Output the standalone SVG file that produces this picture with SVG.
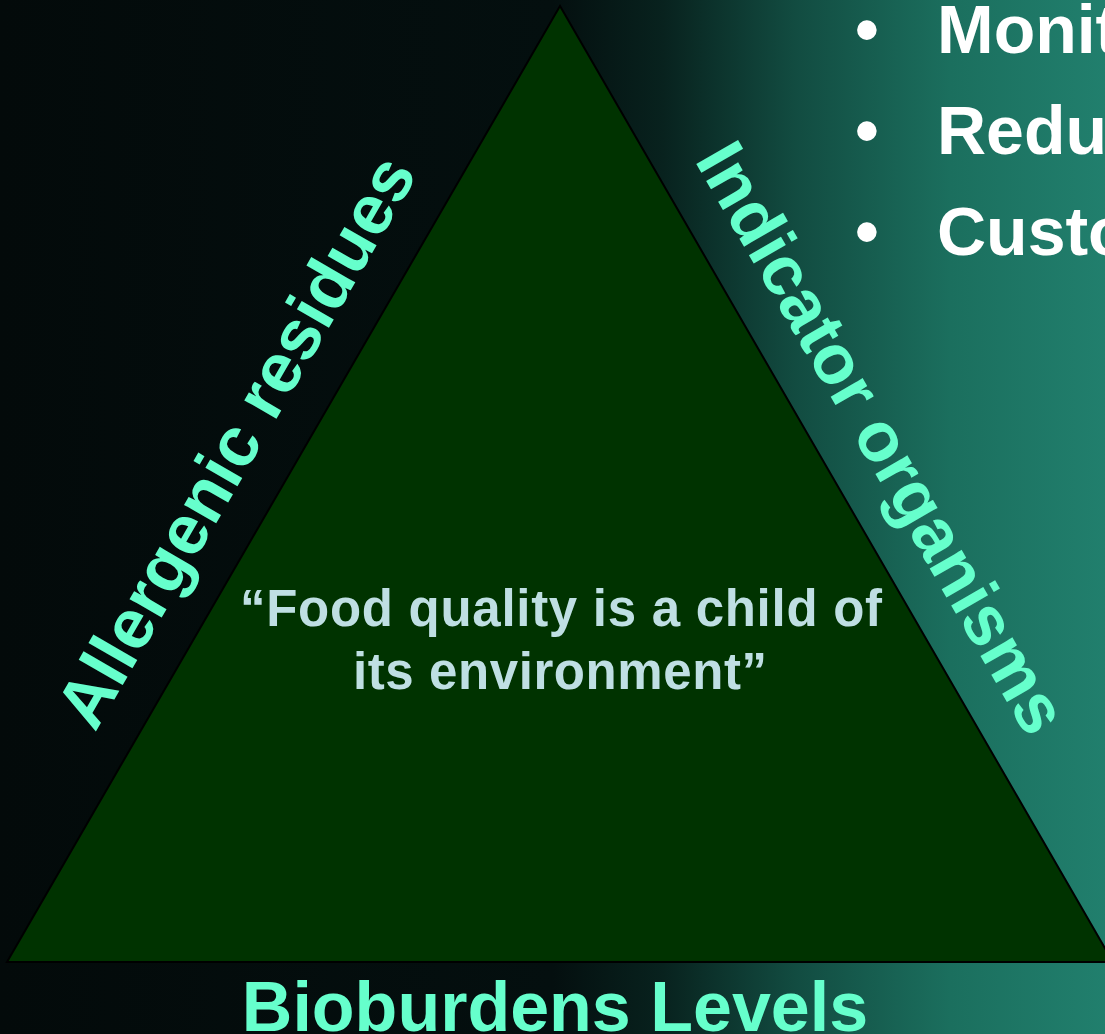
<svg xmlns="http://www.w3.org/2000/svg" width="1105" height="1034" viewBox="0 0 1105 1034">
  <defs>
    <linearGradient id="bg" x1="0" y1="0" x2="1105" y2="0" gradientUnits="userSpaceOnUse">
      <stop offset="0" stop-color="#030a0a"/>
      <stop offset="0.5" stop-color="#040f0f"/>
      <stop offset="0.6" stop-color="#08221e"/>
      <stop offset="0.72" stop-color="#124c41"/>
      <stop offset="0.86" stop-color="#1b6f5e"/>
      <stop offset="1" stop-color="#217f6d"/>
    </linearGradient>
    <style>
      .side { font-family: "Liberation Sans", Arial, sans-serif; font-weight: bold; font-size: 70px; fill: #66ffcc; }
      .quote { font-family: "Liberation Sans", Arial, sans-serif; font-weight: bold; font-size: 51px; fill: #bfdfe3; text-anchor: middle; }
      .bullet { font-family: "Liberation Sans", Arial, sans-serif; font-weight: bold; font-size: 68px; fill: #ffffff; }
      .base { font-family: "Liberation Sans", Arial, sans-serif; font-weight: bold; font-size: 70px; fill: #66ffcc; text-anchor: middle; }
    </style>
  </defs>
  <rect x="0" y="0" width="1105" height="1034" fill="url(#bg)"/>

  <g id="bullets">
    <text class="bullet" x="867" y="53" text-anchor="middle">•</text>
    <text class="bullet" x="937" y="53">Monit</text>
    <text class="bullet" x="867" y="154" text-anchor="middle">•</text>
    <text class="bullet" x="937" y="154">Redu</text>
    <text class="bullet" x="867" y="255" text-anchor="middle">•</text>
    <text class="bullet" x="937" y="255">Custo</text>
  </g>

  <g id="triangle">
    <polygon points="560,6 7,962 1113,962" fill="#003300" stroke="#000000" stroke-width="2"/>
    <text class="quote" x="561" y="626" textLength="642">“Food quality is a child of</text>
    <text class="quote" x="560" y="689" textLength="414">its environment”</text>
  </g>

  <g id="label-allergenic">
    <text class="side" transform="translate(95,733) rotate(-60)" x="0" y="0">Allergenic residues</text>
  </g>

  <g id="label-indicator">
    <text class="side" transform="translate(694,160) rotate(60)" x="0" y="0">Indicator organisms</text>
  </g>

  <g id="label-bioburdens">
    <text class="base" x="555" y="1031">Bioburdens Levels</text>
  </g>

  <g id="connectors"></g>
</svg>
